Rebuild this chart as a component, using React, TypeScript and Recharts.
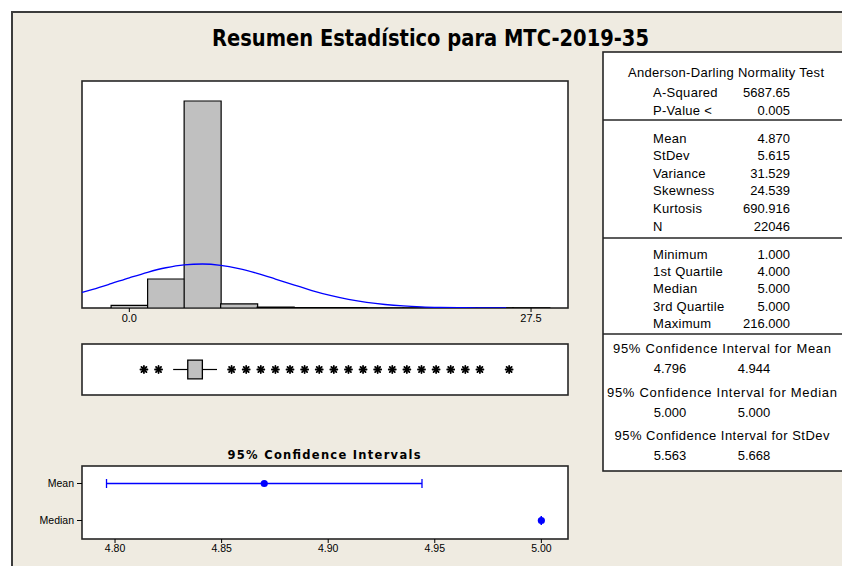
import React from "react";
import {
  Bar,
  ComposedChart,
  ErrorBar,
  Line,
  ReferenceArea,
  ReferenceLine,
  Scatter,
  XAxis,
  YAxis,
} from "recharts";

// ---- data ----
const binCenters = [0, 2.5, 5, 7.5, 10, 12.5, 15, 17.5, 20, 22.5, 25, 27.5];
const binCounts = [240, 2580, 18420, 360, 90, 40, 25, 20, 15, 10, 8, 5];

const curveX = [
  -3.24, -2.5, -1.25, 0, 1.25, 2.5, 3.75, 5, 6.25, 7.5, 8.75, 10, 11.25, 12.5,
  13.75, 15, 16.25, 17.5, 18.75, 20, 21.25, 22.5, 23.75, 25, 25.8,
];
const curveY = [
  1380, 1655, 2162, 2688, 3181, 3582, 3839, 3915, 3800, 3509, 3085, 2580, 2054,
  1555, 1121, 769, 502, 312, 184, 104, 56, 28, 14, 6, 4,
];
const histTicks = [0, 27.5];

const boxQ1 = 4;
const boxQ3 = 5;
const whiskerLow = 3;
const whiskerHigh = 6;
const outliers = [1, 2, 7, 8, 9, 10, 11, 12, 13, 14, 15, 16, 17, 18, 19, 20, 21, 22, 23, 24, 26];

const ciNames = ["Mean", "Median"];
const ciEst = [4.87, 5.0];
const ciLow = [4.796, 5.0];
const ciHigh = [4.944, 5.0];
const ciTicks = [4.8, 4.85, 4.9, 4.95, 5.0];

const adRows = [
  ["A-Squared", "5687.65"],
  ["P-Value <", "0.005"],
];
const descRows = [
  ["Mean", "4.870"],
  ["StDev", "5.615"],
  ["Variance", "31.529"],
  ["Skewness", "24.539"],
  ["Kurtosis", "690.916"],
  ["N", "22046"],
];
const quartRows = [
  ["Minimum", "1.000"],
  ["1st Quartile", "4.000"],
  ["Median", "5.000"],
  ["3rd Quartile", "5.000"],
  ["Maximum", "216.000"],
];
const ciTableTitles = [
  "95% Confidence Interval for Mean",
  "95% Confidence Interval for Median",
  "95% Confidence Interval for StDev",
];
const stdevLow = 5.563;
const stdevHigh = 5.668;

// ---- look ----
const BEIGE = "#EFEBE1";
const EDGE = "#262626";
const BLUE = "#0000FF";
const SANS = '"Liberation Sans", Arial, sans-serif';
const X_DOMAIN: [number, number] = [-3.24, 30.03];

const histData = binCenters.map((b, i) => ({ bin: b, count: binCounts[i] }));
const curveData = curveX.map((x, i) => ({ x, c: curveY[i] }));
const outlierData = outliers.map((x) => ({ x, row: 0.5 }));
const ciData = ciNames.map((name, i) => ({
  name,
  est: ciEst[i],
  err: [ciEst[i] - ciLow[i], ciHigh[i] - ciEst[i]],
}));

// minitab's bold "*" outlier symbol
const Asterisk = (p: any) => {
  const { cx, cy } = p;
  const r = 3.5;
  const d = r * 0.72;
  return (
    <g stroke="#000" strokeWidth={1.8} strokeLinecap="round">
      <line x1={cx} y1={cy - r} x2={cx} y2={cy + r} />
      <line x1={cx - r} y1={cy} x2={cx + r} y2={cy} />
      <line x1={cx - d} y1={cy - d} x2={cx + d} y2={cy + d} />
      <line x1={cx - d} y1={cy + d} x2={cx + d} y2={cy - d} />
    </g>
  );
};

const Dot = (p: any) => <circle cx={p.cx} cy={p.cy} r={3.6} fill={BLUE} />;

function Backdrop() {
  const labelX = 653;
  const valueX = 790;
  const txt = { fontFamily: SANS, fontSize: 13, fill: "#000", dominantBaseline: "central" as const };
  return (
    <svg width={842} height={566} style={{ position: "absolute", left: 0, top: 0 }}>
      <rect x={0} y={0} width={842} height={566} fill="#fff" />
      <rect x={12} y={12} width={850} height={570} fill={BEIGE} stroke="#3c3c3c" strokeWidth={2} />
      <text
        x={430.5}
        y={45.5}
        textAnchor="middle"
        fontFamily='"DejaVu Sans", sans-serif'
        fontWeight="bold"
        fontSize={23}
        textLength={437}
        lengthAdjust="spacingAndGlyphs"
      >
        Resumen Estadístico para MTC-2019-35
      </text>

      {/* plot panels */}
      <rect x={82} y={81} width={486} height={227} fill="#fff" stroke={EDGE} strokeWidth={1.6} />
      <rect x={82} y={344} width={486} height={51} fill="#fff" stroke={EDGE} strokeWidth={1.6} />
      <rect x={82} y={466} width={486} height={73} fill="#fff" stroke={EDGE} strokeWidth={1.6} />
      <text
        x={324}
        y={458.5}
        textAnchor="middle"
        fontFamily='"DejaVu Sans", sans-serif'
        fontWeight="bold"
        fontSize={11.5}
        textLength={193}
        lengthAdjust="spacing"
      >
        95% Confidence Intervals
      </text>

      {/* summary table */}
      <rect x={603} y={52} width={260} height={419} fill="#fff" stroke={EDGE} strokeWidth={1.6} />
      <line x1={603} y1={120} x2={842} y2={120} stroke={EDGE} strokeWidth={1.6} />
      <line x1={603} y1={238} x2={842} y2={238} stroke={EDGE} strokeWidth={1.6} />
      <line x1={603} y1={334} x2={842} y2={334} stroke={EDGE} strokeWidth={1.6} />

      <text {...txt} x={726} y={72} textAnchor="middle" textLength={196} lengthAdjust="spacing">
        Anderson-Darling Normality Test
      </text>
      {adRows.map(([l, v], i) => (
        <g key={l}>
          <text {...txt} x={labelX} y={92.5 + i * 17.5} letterSpacing={0.3}>{l}</text>
          <text {...txt} x={valueX} y={92.5 + i * 17.5} textAnchor="end">{v}</text>
        </g>
      ))}
      {descRows.map(([l, v], i) => (
        <g key={l}>
          <text {...txt} x={labelX} y={138 + i * 17.6} letterSpacing={0.3}>{l}</text>
          <text {...txt} x={valueX} y={138 + i * 17.6} textAnchor="end">{v}</text>
        </g>
      ))}
      {quartRows.map(([l, v], i) => (
        <g key={l}>
          <text {...txt} x={labelX} y={254 + i * 17.4} letterSpacing={0.3}>{l}</text>
          <text {...txt} x={valueX} y={254 + i * 17.4} textAnchor="end">{v}</text>
        </g>
      ))}
      {ciTableTitles.map((t, i) => {
        const lo = i === 2 ? stdevLow : ciLow[i];
        const hi = i === 2 ? stdevHigh : ciHigh[i];
        const widths = [218, 230, 215];
        const y = 348.5 + i * 43.5;
        return (
          <g key={t}>
            <text {...txt} x={722} y={y} textAnchor="middle" textLength={widths[i]} lengthAdjust="spacing">
              {t}
            </text>
            <text {...txt} x={670} y={y + 20} textAnchor="middle">{lo.toFixed(3)}</text>
            <text {...txt} x={754} y={y + 20} textAnchor="middle">{hi.toFixed(3)}</text>
          </g>
        );
      })}
    </svg>
  );
}

export default function App() {
  const tick = { fontSize: 11, fill: "#000", fontFamily: SANS };
  return (
    <div style={{ position: "absolute", left: 0, top: 0, width: 842, height: 566, overflow: "hidden" }}>
      <Backdrop />

      {/* histogram with fitted normal curve */}
      <div style={{ position: "absolute", left: 82, top: 81 }}>
        <ComposedChart
          width={486}
          height={257}
          data={histData}
          barCategoryGap={0}
          margin={{ top: 0, right: 0, bottom: 0, left: 0 }}
        >
          <XAxis
            xAxisId="num"
            type="number"
            dataKey="x"
            domain={X_DOMAIN}
            allowDataOverflow
            ticks={histTicks}
            interval={0}
            tickFormatter={(v: number) => v.toFixed(1)}
            axisLine={false}
            tickLine={{ stroke: "#000" }}
            tickSize={4}
            tickMargin={2}
            tick={tick}
            height={30}
          />
          <XAxis
            xAxisId="bins"
            type="category"
            dataKey="bin"
            hide
            height={0}
            orientation="top"
            padding={{ left: 29.1, right: 18.7 }}
          />
          <YAxis hide domain={[0, 20200]} allowDataOverflow />
          <Bar
            xAxisId="bins"
            dataKey="count"
            fill="#C0C0C0"
            stroke="#000"
            strokeWidth={1.2}
            isAnimationActive={false}
          />
          <Line
            xAxisId="num"
            data={curveData}
            dataKey="c"
            type="monotone"
            stroke={BLUE}
            strokeWidth={1.3}
            dot={false}
            activeDot={false}
            isAnimationActive={false}
          />
        </ComposedChart>
      </div>

      {/* boxplot */}
      <div style={{ position: "absolute", left: 82, top: 344 }}>
        <ComposedChart width={486} height={51} margin={{ top: 0, right: 0, bottom: 0, left: 0 }}>
          <XAxis type="number" dataKey="x" domain={X_DOMAIN} allowDataOverflow hide />
          <YAxis type="number" dataKey="row" domain={[0, 1]} hide />
          <ReferenceLine
            segment={[{ x: whiskerLow, y: 0.5 }, { x: boxQ1, y: 0.5 }]}
            stroke="#000"
            strokeWidth={1.2}
          />
          <ReferenceLine
            segment={[{ x: boxQ3, y: 0.5 }, { x: whiskerHigh, y: 0.5 }]}
            stroke="#000"
            strokeWidth={1.2}
          />
          <ReferenceArea
            x1={boxQ1}
            x2={boxQ3}
            y1={0.315}
            y2={0.685}
            fill="#C0C0C0"
            fillOpacity={1}
            stroke="#000"
            strokeWidth={1.3}
          />
          <Scatter data={outlierData} shape={Asterisk} isAnimationActive={false} />
        </ComposedChart>
      </div>

      {/* 95% confidence intervals */}
      <div style={{ position: "absolute", left: 0, top: 466 }}>
        <ComposedChart
          layout="vertical"
          width={568}
          height={101}
          data={ciData}
          margin={{ top: 0, right: 0, bottom: 0, left: 0 }}
        >
          <XAxis
            type="number"
            dataKey="est"
            domain={[4.7845, 5.0125]}
            allowDataOverflow
            ticks={ciTicks}
            interval={0}
            tickFormatter={(v: number) => v.toFixed(2)}
            axisLine={false}
            tickLine={{ stroke: "#000" }}
            tickSize={4}
            tickMargin={2}
            tick={{ ...tick, fontSize: 10.5 }}
            height={28}
          />
          <YAxis
            type="category"
            dataKey="name"
            width={82}
            padding={{ top: 17.5, bottom: 18.5 }}
            axisLine={false}
            tickLine={{ stroke: "#000" }}
            tickSize={5}
            tickMargin={3}
            tick={{ ...tick, fontSize: 10.5 }}
          />
          <Scatter shape={Dot} isAnimationActive={false}>
            <ErrorBar dataKey="err" direction="x" width={4.5} stroke={BLUE} strokeWidth={1.3} />
          </Scatter>
        </ComposedChart>
      </div>
    </div>
  );
}
